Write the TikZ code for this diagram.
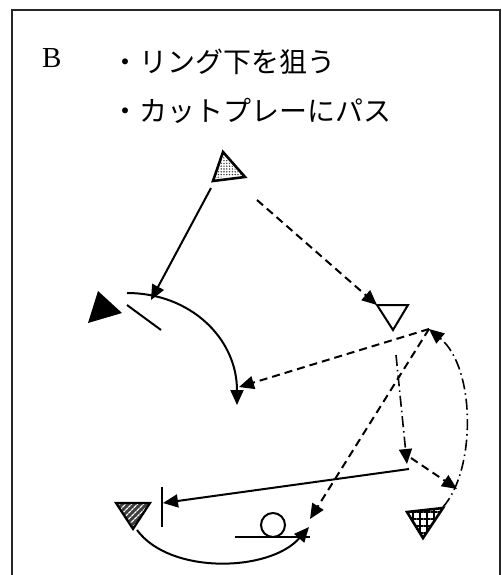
\documentclass[tikz,border=0pt]{standalone}
\usepackage{fontspec}
\newfontfamily\bfontB{Liberation Serif}
\newfontfamily\jpfont{Noto Sans CJK JP}
\usetikzlibrary{arrows.meta,patterns.meta}
\begin{document}
\begin{tikzpicture}[x=1pt,y=-1pt,
  conn/.style={line width=2pt,-{Triangle[length=15pt,width=13pt]}},
  dashconn/.style={conn,dash pattern=on 8pt off 5pt},
  dotconn/.style={conn,line width=1.6pt,dash pattern=on 11pt off 4pt on 1.5pt off 4pt},
  playerline/.style={line width=2.6pt,line join=miter},
  plain/.style={line width=2pt},
  jp/.style={anchor=west,inner sep=0pt,font=\jpfont\fontsize{28pt}{28pt}\selectfont}]
\useasboundingbox (0,0) rectangle (502,575);
\draw[line width=1.6pt,black!85] (12,10) rectangle (500,600);
% texts
\node[anchor=base west,inner sep=0pt,font=\bfontB\fontsize{29pt}{29pt}\selectfont] (lblB) at (42,68) {B};
\node[jp] (t1) at (111,62) {・リング下を狙う};
\node[jp] (t2) at (111,111) {・カットプレーにパス};
% players (shapes)
\fill[pattern={Dots[radius=0.8pt,distance=2.8pt]},pattern color=black!80] (223,156) -- (216,178) -- (241,175) -- cycle;
\draw[playerline] (223,152) -- (213,181) -- (245,177) -- cycle;
\fill[black] (98,291) -- (88,323) -- (122,313) -- cycle;
\draw[playerline,line width=2pt] (377,305) -- (408,305) -- (393,330) -- cycle;
\fill[black!75] (116,503) -- (150,503) -- (133,529) -- cycle;
\fill[pattern={Lines[angle=45,distance=4pt,line width=1.3pt]},pattern color=white] (118,504) -- (148,504) -- (133,527) -- cycle;
\draw[playerline,line width=2.2pt] (116,503) -- (150,503) -- (133,529) -- cycle;
\fill[pattern={Hatch[angle=0,distance=7pt,line width=1.3pt]},pattern color=black] (407,512) -- (443,508) -- (423,538) -- cycle;
\draw[playerline] (407,512) -- (443,508) -- (423,538) -- cycle;
% defenders' marks
\draw[plain] (127,305) -- (161,330);
\draw[plain] (162,487) -- (162,527);
\draw[plain] (235,537) -- (310,537);
\draw[plain] (273,525) circle (12);
% coordinates
\coordinate (sA) at (211,188);
\coordinate (sB) at (257,200);
\coordinate (tip1) at (151,300);
\coordinate (c1s) at (127,293);
\coordinate (c1e) at (237,405);
\coordinate (hol) at (377,305);
\coordinate (P) at (429,329);
\coordinate (dl) at (239,387);
\coordinate (ring) at (310,519);
\coordinate (hb) at (396,355);
\coordinate (Q) at (407,464);
\coordinate (Qs) at (411,458);
\coordinate (Ql) at (409,469);
\coordinate (gr) at (457,489);
\coordinate (bar) at (163,503);
\coordinate (hs) at (137,530);
\coordinate (he) at (309,527);
\coordinate (gs) at (443,507);
% connectors
\draw[conn] (sA) -- (tip1);
\draw[conn] (c1s) .. controls (190,293) and (237,338) .. (c1e);
\draw[dashconn] (sB) -- (hol);
\draw[dashconn] (P) -- (dl);
\draw[dashconn] (P) -- (ring);
\draw[dotconn] (hb) -- (Q);
\draw[dashconn] (Qs) -- (gr);
\draw[conn] (Ql) -- (bar);
\draw[conn] (hs) .. controls (170,575) and (270,572) .. (he);
\draw[dotconn] (gs) .. controls (476,470) and (476,368) .. (P);
\end{tikzpicture}
\end{document}
